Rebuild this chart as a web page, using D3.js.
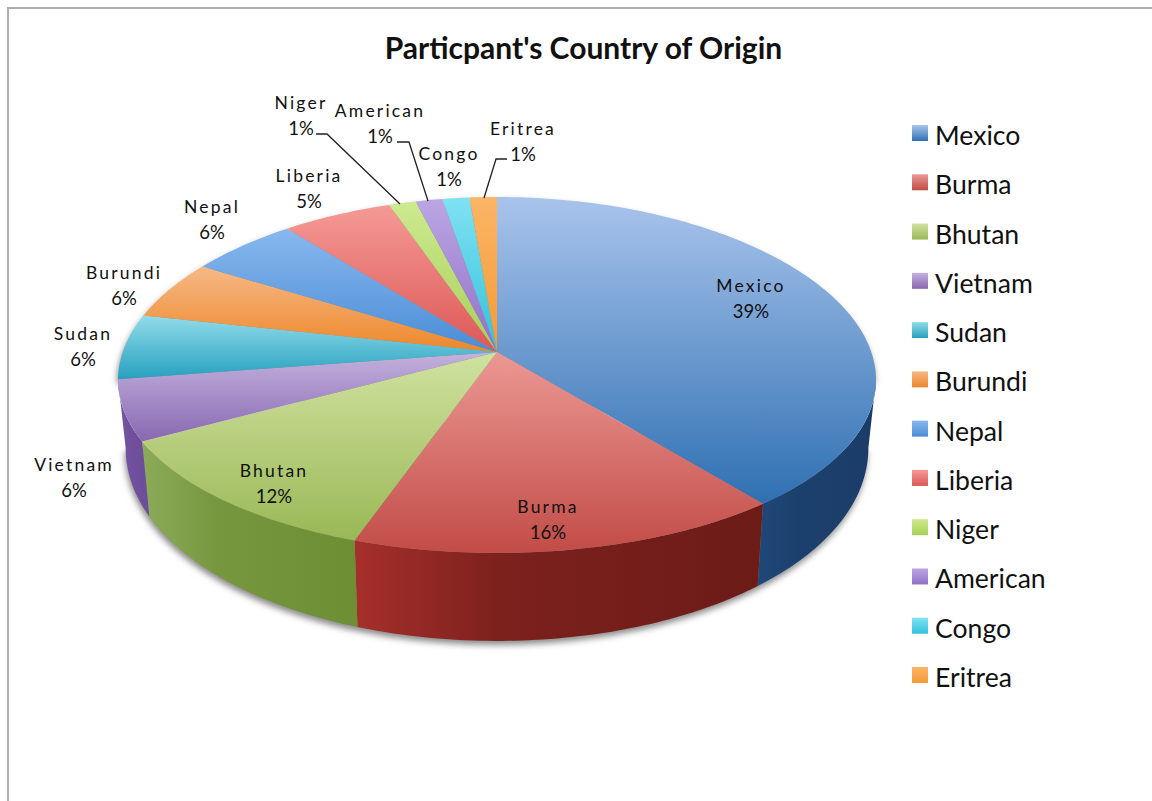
<!DOCTYPE html>
<html>
<head>
<meta charset="utf-8">
<script src="https://cdn.jsdelivr.net/npm/d3@7"></script>
<style>
html, body { margin: 0; padding: 0; background: #fff; }
svg { display: block; }
text { font-family: Lato, "Open Sans", sans-serif; fill: #111; }
</style>
</head>
<body>
<svg class="chart" width="1152" height="801"></svg>
<script>
// Datos
var countries = ["Mexico", "Burma", "Bhutan", "Vietnam", "Sudan", "Burundi", "Nepal", "Liberia", "Niger", "American", "Congo", "Eritrea"];
var shares = [39, 16.4, 12, 5.6, 5.9, 5.25, 5.3, 5.33, 1.3, 1.3, 1.3, 1.32];
var printedPct = ["39%", "16%", "12%", "6%", "6%", "6%", "6%", "5%", "1%", "1%", "1%", "1%"];

// Colores: claro arriba, oscuro abajo, y el lado del queso
var lightColors = ["#a9c4ec", "#ec9894", "#d0e2a0", "#c4b2de", "#92dcea", "#f6b986", "#88b8ee", "#f59a96", "#cdea90", "#bba6e4", "#7fe2f2", "#fbb566"];
var darkColors = ["#2f70b2", "#c24c47", "#9ab856", "#8868b0", "#26a0be", "#ee872a", "#4a8cd6", "#dc5856", "#a9cf58", "#9070c8", "#35c0dc", "#f59a34"];
var sideLeft = ["#1f4879", "#a62f2b", "#8cab59", "#7a58a8", "#2fa6c2", "#ee8a2e", "#4f90d8", "#de5c5a", "#a9cf58", "#9070c8", "#35c0dc", "#f59a34"];
var sideRight = ["#1b3c68", "#6c1b17", "#6d8e33", "#6d4d9a", "#2fa6c2", "#ee8a2e", "#4f90d8", "#de5c5a", "#a9cf58", "#9070c8", "#35c0dc", "#f59a34"];

// Posicion de cada etiqueta (centro x, linea base del nombre)
var labelSpots = [[751, 292], [548, 513], [274, 477], [74, 471], [83, 340], [124, 279], [212, 213], [309, 182], [301, 109], [380, 117], [449, 160], [523, 135]];
var leaderLines = [
	[[316, 134], [327, 134], [400, 204]],
	[[397, 142], [409, 142], [428, 201]],
	[[507, 159], [496, 159], [484, 198]]
];

// Geometria de la tapa: vertice en (cx,cy), perspectiva con k
var cx = 497, cy = 352;
var a = 175, b = 375.8, k = -0.129;

var svg = d3.select(".chart");
var defs = svg.append("defs");

var light = d3.scaleOrdinal().domain(countries).range(lightColors);
var dark = d3.scaleOrdinal().domain(countries).range(darkColors);

var pie = d3.pie().sort(null).value(function(d){ return d.share; });
var rows = countries.map(function(c, i){ return {name: c, share: shares[i], pct: printedPct[i]}; });
var slices = pie(rows);

var line = d3.line();

// Punto del borde superior para un angulo medido desde arriba
function rim(t) {
	var u = Math.sin(t), v = -Math.cos(t), w = 1 + k * v;
	return [cx + b * u / w, cy + a * v / w + 5 * u * u];
}
// Mismo punto en el borde inferior
function rimLow(t) {
	var p = rim(t);
	return [cx + (p[0] - cx) * 0.98, p[1] + 75 + (p[1] - 441) * 0.116];
}
function arcPoints(f, t0, t1) {
	var n = Math.max(2, Math.ceil((t1 - t0) * 60)), pts = [];
	for (var i = 0; i <= n; i++) pts.push(f(t0 + (t1 - t0) * i / n));
	return pts;
}

var shown0 = Math.acos(k);
var shown1 = 2 * Math.PI - shown0;

// Fondo: marco gris
svg.append("path")
	.attr("d", line([[8, 801], [8, 8], [1152, 8]]))
	.attr("fill", "none")
	.attr("stroke", "#aeaeae")
	.attr("stroke-width", 2);

svg.append("text")
	.attr("x", 583.5)
	.attr("y", 59)
	.attr("text-anchor", "middle")
	.style("font-size", "30px")
	.style("font-weight", 700)
	.text("Particpant's Country of Origin");

// Gradientes
slices.forEach(function(d, i) {
	var g = defs.append("linearGradient").attr("id", "top" + i).attr("x1", 0).attr("y1", 0).attr("x2", 0).attr("y2", 1);
	g.append("stop").attr("offset", "0%").attr("stop-color", light(d.data.name));
	g.append("stop").attr("offset", "100%").attr("stop-color", dark(d.data.name));
	var s = defs.append("linearGradient").attr("id", "side" + i).attr("x1", 0).attr("y1", 0).attr("x2", 1).attr("y2", 0);
	s.append("stop").attr("offset", "0%").attr("stop-color", sideLeft[i]);
	s.append("stop").attr("offset", "35%").attr("stop-color", d3.interpolateRgb(sideLeft[i], sideRight[i])(0.7));
	s.append("stop").attr("offset", "100%").attr("stop-color", sideRight[i]);
});
var blur = defs.append("filter").attr("id", "soft").attr("x", "-5%").attr("y", "-5%").attr("width", "110%").attr("height", "110%");
blur.append("feGaussianBlur").attr("stdDeviation", 3);

// Sombra
svg.append("path")
	.attr("d", line(arcPoints(rimLow, shown0, shown1).reverse().concat(arcPoints(rim, shown1, shown1 + 2 * shown0))) + "Z")
	.attr("transform", "translate(-1,4)")
	.attr("fill", "#8a8a8a")
	.attr("filter", "url(#soft)");

// Lados
svg.selectAll("path.side")
	.data(slices.filter(function(d){ return d.endAngle > shown0 && d.startAngle < shown1; }))
	.enter().append("path")
		.attr("class", "side")
		.attr("fill", function(d){ return "url(#side" + d.index + ")"; })
		.attr("d", function(d) {
			var t0 = Math.max(d.startAngle, shown0), t1 = Math.min(d.endAngle, shown1);
			return line(arcPoints(rim, t0, t1).concat(arcPoints(rimLow, t0, t1).reverse())) + "Z";
		});

// Tapa
svg.selectAll("path.slice")
	.data(slices)
	.enter().append("path")
		.attr("class", "slice")
		.attr("fill", function(d){ return "url(#top" + d.index + ")"; })
		.attr("d", function(d) {
			return line([[cx, cy]].concat(arcPoints(rim, d.startAngle, d.endAngle))) + "Z";
		});

// Lineas guia
svg.selectAll("path.leader")
	.data(leaderLines)
	.enter().append("path")
		.attr("class", "leader")
		.attr("d", line)
		.attr("fill", "none")
		.attr("stroke", "#222")
		.attr("stroke-width", 1.3);

// Etiquetas
var label = svg.selectAll("g.datalabel")
	.data(slices)
	.enter().append("g")
		.attr("class", "datalabel")
		.attr("transform", function(d, i){ return "translate(" + labelSpots[i][0] + "," + labelSpots[i][1] + ")"; })
		.attr("text-anchor", "middle");
label.append("text")
	.style("font-size", "17.5px")
	.style("letter-spacing", "2.2px")
	.text(function(d){ return d.data.name; });
label.append("text")
	.attr("y", 25.5)
	.style("font-size", "18.5px")
	.text(function(d){ return d.data.pct; });

// Leyenda
var legendY = d3.scalePoint().domain(countries).range([133, 675]);
var legend = svg.selectAll("g.legenditem")
	.data(slices)
	.enter().append("g")
		.attr("class", "legenditem")
		.attr("transform", function(d){ return "translate(912," + legendY(d.data.name) + ")"; });
legend.append("rect")
	.attr("y", -8)
	.attr("width", 16)
	.attr("height", 16)
	.attr("fill", function(d){ return "url(#top" + d.index + ")"; });
legend.append("text")
	.attr("x", 23)
	.attr("y", 12)
	.style("font-size", "26.6px")
	.text(function(d){ return d.data.name; });
</script>
</body>
</html>
